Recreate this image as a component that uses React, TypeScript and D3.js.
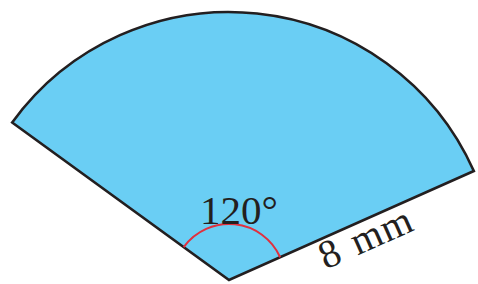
import React, { useRef, useEffect } from 'react';
import * as d3 from 'd3';

// sector data
const sectorAngle = [120];
const sectorRadius = [8];
const radiusUnit = ['mm'];
const tilt = [6]; // degrees clockwise the sector bisector leans from vertical

const App = () => {
  const ref = useRef<SVGSVGElement | null>(null);

  useEffect(() => {
    if (!ref.current) return;
    const svg = d3.select(ref.current);
    svg.selectAll('*').remove();

    const cx = 229;
    const cy = 280;
    const r = d3.scaleLinear().domain([0, sectorRadius[0]]).range([0, 268]);
    const toRad = (deg: number) => (deg * Math.PI) / 180;

    const start = toRad(tilt[0] - sectorAngle[0] / 2);
    const end = toRad(tilt[0] + sectorAngle[0] / 2);

    const g = svg.append('g').attr('transform', `translate(${cx},${cy})`);

    // the sector
    g.append('path')
      .attr('d', d3.arc()({ innerRadius: 0, outerRadius: r(sectorRadius[0]), startAngle: start, endAngle: end })!)
      .attr('fill', '#6acef4')
      .attr('stroke', '#231f20')
      .attr('stroke-width', 2.6)
      .attr('stroke-linejoin', 'miter');

    // angle mark
    const markArc = d3.arc()({ innerRadius: 56, outerRadius: 56, startAngle: start, endAngle: end })!;
    g.append('path')
      .attr('d', markArc)
      .attr('fill', 'none')
      .attr('stroke', '#e0303e')
      .attr('stroke-width', 2);

    g.append('text')
      .attr('x', 10)
      .attr('y', -56)
      .attr('text-anchor', 'middle')
      .attr('font-family', '"Liberation Serif", "DejaVu Serif", serif')
      .attr('font-size', 41)
      .attr('fill', '#231f20')
      .text(`${sectorAngle[0]}°`);

    // radius label along right edge
    const edgeDeg = tilt[0] + sectorAngle[0] / 2 - 90; // screen rotation of right edge
    const lg = g.append('g').attr('transform', `rotate(${edgeDeg})`);
    lg.append('text')
      .attr('x', r(sectorRadius[0]) * 0.53)
      .attr('y', 30)
      .attr('text-anchor', 'middle')
      .attr('font-family', '"Liberation Serif", "DejaVu Serif", serif')
      .attr('font-size', 40)
      .attr('letter-spacing', 1)
      .attr('word-spacing', 3)
      .attr('fill', '#231f20')
      .text(`${sectorRadius[0]} ${radiusUnit[0]}`);
  }, []);

  return (
    <svg
      ref={ref}
      width={478}
      height={284}
      style={{ position: 'absolute', left: 0, top: 0, background: '#fff' }}
    />
  );
};

export default App;
